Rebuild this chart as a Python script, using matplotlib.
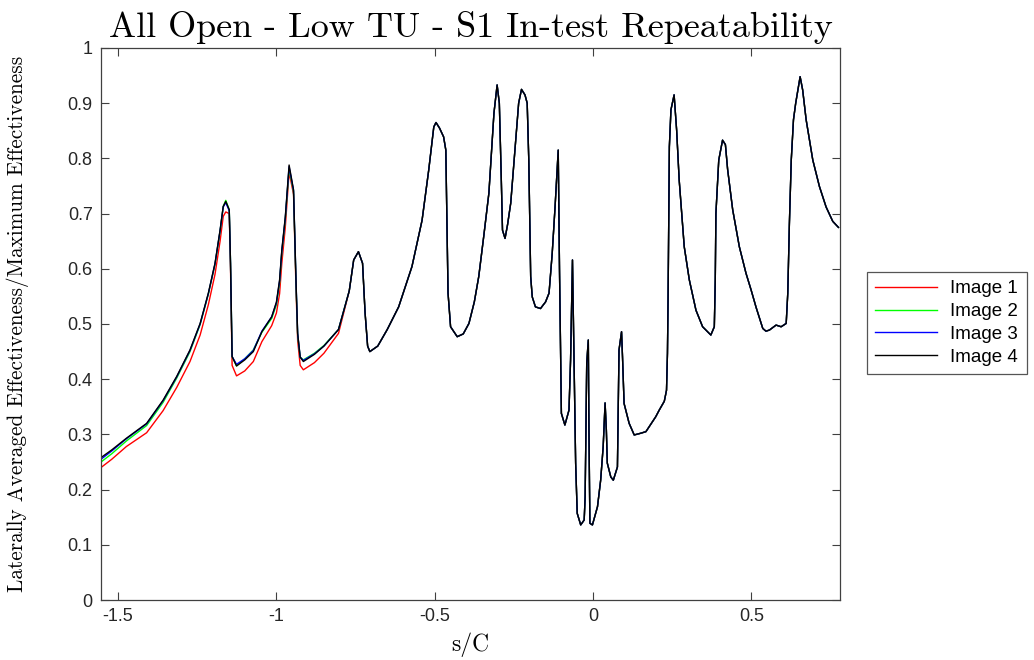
import numpy as np
import matplotlib.pyplot as plt

# s/C positions and effectiveness
# left part: the four images differ slightly here
s_left = [-1.554, -1.52, -1.474, -1.41, -1.358, -1.315, -1.273, -1.241, -1.215,
          -1.194, -1.178, -1.168, -1.160, -1.149, -1.145, -1.140, -1.126, -1.10,
          -1.073, -1.046, -1.015, -1.0, -0.99, -0.983, -0.972, -0.960, -0.946,
          -0.938, -0.933, -0.925, -0.915, -0.88, -0.85, -0.804]

eff_img1 = [0.240, 0.255, 0.278, 0.303, 0.343, 0.385, 0.432, 0.480, 0.535,
            0.590, 0.650, 0.695, 0.703, 0.700, 0.600, 0.425, 0.406, 0.415,
            0.432, 0.468, 0.497, 0.520, 0.555, 0.610, 0.675, 0.775, 0.735,
            0.560, 0.470, 0.425, 0.417, 0.430, 0.447, 0.483]
eff_img2 = [0.250, 0.265, 0.288, 0.316, 0.358, 0.402, 0.450, 0.499, 0.554,
            0.608, 0.668, 0.713, 0.724, 0.707, 0.610, 0.441, 0.424, 0.437,
            0.453, 0.485, 0.510, 0.535, 0.575, 0.630, 0.690, 0.782, 0.740,
            0.570, 0.480, 0.440, 0.435, 0.447, 0.461, 0.490]
eff_img3 = [0.255, 0.270, 0.292, 0.319, 0.361, 0.404, 0.452, 0.500, 0.555,
            0.609, 0.669, 0.712, 0.720, 0.705, 0.610, 0.441, 0.427, 0.437,
            0.452, 0.487, 0.513, 0.538, 0.578, 0.632, 0.692, 0.785, 0.742,
            0.574, 0.483, 0.440, 0.434, 0.446, 0.460, 0.490]
eff_img4 = [0.258, 0.272, 0.293, 0.320, 0.362, 0.405, 0.453, 0.501, 0.556,
            0.610, 0.670, 0.713, 0.722, 0.707, 0.610, 0.441, 0.424, 0.435,
            0.450, 0.486, 0.513, 0.540, 0.580, 0.634, 0.694, 0.788, 0.743,
            0.574, 0.483, 0.440, 0.432, 0.445, 0.460, 0.490]

# right part: the four images lie on top of each other
s_right = [-0.77, -0.756, -0.741, -0.728, -0.72, -0.712, -0.705, -0.68, -0.65,
           -0.614, -0.572, -0.54, -0.519, -0.503, -0.496, -0.485, -0.472, -0.465,
           -0.462, -0.458, -0.450, -0.429, -0.41, -0.392, -0.375, -0.361, -0.345,
           -0.329, -0.313, -0.303, -0.296, -0.290, -0.286, -0.278, -0.270, -0.260,
           -0.245, -0.235, -0.226, -0.215, -0.208, -0.203, -0.197, -0.192, -0.182,
           -0.166, -0.150, -0.139, -0.129, -0.120, -0.110, -0.106, -0.100, -0.089,
           -0.076, -0.071, -0.065, -0.060, -0.055, -0.050, -0.039, -0.028, -0.025,
           -0.020, -0.015, -0.013, -0.010, -0.002, 0.014, 0.024, 0.032, 0.038,
           0.042, 0.045, 0.056, 0.064, 0.077, 0.082, 0.090, 0.093, 0.098,
           0.114, 0.130, 0.150, 0.167, 0.198, 0.209, 0.225, 0.232, 0.235,
           0.237, 0.241, 0.246, 0.256, 0.264, 0.272, 0.288, 0.304, 0.325,
           0.346, 0.372, 0.383, 0.386, 0.388, 0.397, 0.409, 0.418, 0.425,
           0.441, 0.462, 0.483, 0.499, 0.515, 0.536, 0.546, 0.557, 0.578,
           0.594, 0.610, 0.615, 0.620, 0.626, 0.633, 0.640, 0.654, 0.662,
           0.673, 0.694, 0.715, 0.736, 0.757, 0.775]
eff_right = [0.560, 0.616, 0.631, 0.610, 0.520, 0.460, 0.450, 0.460, 0.490,
             0.531, 0.604, 0.688, 0.779, 0.857, 0.865, 0.855, 0.839, 0.815,
             0.700, 0.556, 0.495, 0.477, 0.482, 0.501, 0.540, 0.586, 0.660,
             0.737, 0.882, 0.933, 0.900, 0.767, 0.670, 0.655, 0.680, 0.719,
             0.827, 0.900, 0.925, 0.915, 0.900, 0.797, 0.586, 0.549, 0.531,
             0.528, 0.540, 0.556, 0.628, 0.712, 0.815, 0.600, 0.338, 0.317,
             0.344, 0.435, 0.616, 0.429, 0.248, 0.157, 0.136, 0.145, 0.187,
             0.429, 0.471, 0.308, 0.139, 0.136, 0.169, 0.217, 0.278, 0.357,
             0.308, 0.248, 0.223, 0.217, 0.241, 0.453, 0.486, 0.441, 0.356,
             0.320, 0.299, 0.302, 0.305, 0.332, 0.344, 0.360, 0.380, 0.447,
             0.549, 0.821, 0.888, 0.915, 0.851, 0.761, 0.640, 0.580, 0.525,
             0.495, 0.480, 0.495, 0.580, 0.700, 0.797, 0.833, 0.825, 0.780,
             0.707, 0.640, 0.592, 0.562, 0.530, 0.492, 0.487, 0.489, 0.498,
             0.495, 0.501, 0.556, 0.680, 0.797, 0.870, 0.900, 0.948, 0.924,
             0.870, 0.797, 0.749, 0.712, 0.686, 0.675]

labels = ['Image 1', 'Image 2', 'Image 3', 'Image 4']
colors = ['#ff0000', '#00ff00', '#0000ff', '#000000']
series = [eff_img1, eff_img2, eff_img3, eff_img4]

plt.rcParams['axes.formatter.use_mathtext'] = True
fig = plt.figure(figsize=(10.34, 6.6), dpi=100)
ax = fig.add_axes([0.0977, 0.0909, 0.8124 - 0.0977, 0.9273 - 0.0909])

s_all = np.array(s_left + s_right)
for lab, col, y in zip(labels, colors, series):
    ax.plot(s_all, np.array(y + eff_right), color=col, lw=1.0, label=lab)

ax.set_xlim(-1.554, 0.78)
ax.set_ylim(0, 1)
ax.set_xticks([-1.5, -1, -0.5, 0, 0.5])
ax.set_xticklabels(['-1.5', '-1', '-0.5', '0', '0.5'])
ax.set_yticks(np.arange(0, 1.01, 0.1))
ax.set_yticklabels(['0', '0.1', '0.2', '0.3', '0.4', '0.5', '0.6', '0.7', '0.8', '0.9', '1'])

axis_col = '#404040'
for sp in ax.spines.values():
    sp.set_color(axis_col)
    sp.set_linewidth(0.9)
ax.tick_params(direction='in', length=6, width=0.8, color=axis_col,
               top=True, right=True, labelsize=13, pad=6)
for t in ax.get_xticklabels() + ax.get_yticklabels():
    t.set_family('Liberation Sans')
    t.set_color('#262626')

ax.set_title('All Open - Low TU - S1 In-test Repeatability', family='cmr10',
             fontsize=26, pad=8)
ax.set_xlabel('s/C', family='cmr10', fontsize=17, labelpad=5)
ax.set_ylabel('Laterally Averaged Effectiveness/Maximum Effectiveness',
              family='cmr10', fontsize=15.3)
ax.yaxis.set_label_coords(-0.098, 0.5)

leg = ax.legend(loc='center left', bbox_to_anchor=(0.8385, 0.5106),
                bbox_transform=fig.transFigure, prop={'family': 'Liberation Sans', 'size': 13.5},
                handlelength=3.3, handletextpad=0.7, fancybox=False, framealpha=1,
                edgecolor='#555555', borderpad=0.45, labelspacing=0.3,
                borderaxespad=0)
leg.get_frame().set_linewidth(0.9)

fig.savefig('out.png', dpi=100)
